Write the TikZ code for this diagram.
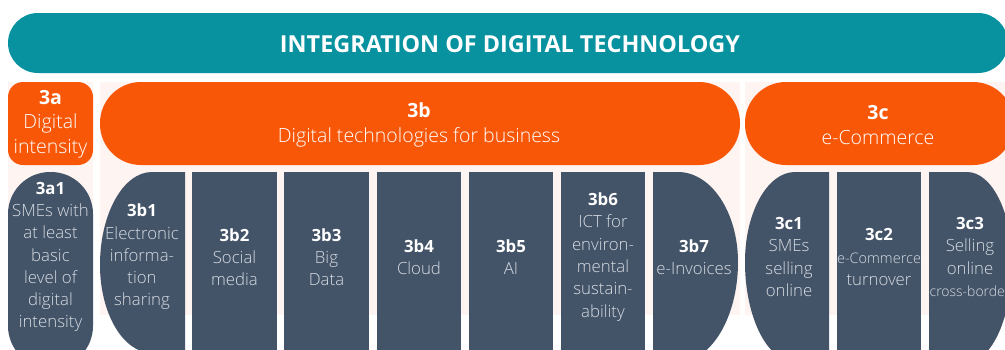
\documentclass[tikz,border=0pt]{standalone}
\usepackage{fontspec}
\setmainfont{Open Sans}[UprightFont={* Light}, BoldFont={* Bold}]
\definecolor{myteal}{HTML}{0892A0}
\definecolor{myorange}{HTML}{F95708}
\definecolor{mydark}{HTML}{435368}
\definecolor{mypink}{HTML}{FEF4F1}
\definecolor{boxtext}{HTML}{D8DDE3}
\tikzset{
  bgpanel/.style={fill=mypink},
  banner/.style={fill=myteal},
  orangebar/.style={fill=myorange},
  darkbox/.style={fill=mydark},
  titletext/.style={font=\bfseries\fontsize{23.4}{28}\selectfont, text=white, inner sep=0},
  headtext/.style={font=\fontsize{19.5}{24.5}\selectfont, text=white, align=center, inner sep=0},
  boxlabel/.style={font=\fontsize{16.8}{22.3}\selectfont, text=boxtext, align=center, inner sep=0},
}
\newcommand{\hd}[1]{{\bfseries\color{white}#1}}
\begin{document}
\begin{tikzpicture}[x=1pt,y=-1pt]
\useasboundingbox (0,0) rectangle (1005,349);
\clip (0,0) rectangle (1005,349);
% pink panels
\fill[bgpanel] (8,82) rectangle (93,315);
\fill[bgpanel] (100,82) rectangle (740,315);
\fill[bgpanel] (745,82) rectangle (1005,315);
% banner
\fill[banner, rounded corners=30pt] (8,13) rectangle (1008,73);
\node[titletext] (title) at (510,44) {INTEGRATION OF DIGITAL TECHNOLOGY};
% orange headers
\fill[orangebar, rounded corners=15pt] (8,82) rectangle (93,165);
\fill[orangebar, rounded corners=41pt] (100,82) rectangle (740,165);
\fill[orangebar, rounded corners=41pt] (745,82) rectangle (1014,165);
\node[headtext] (h3a) at (50.5,124) {\hd{3a}\\Digital\\intensity};
\node[headtext] (h3b) at (419,125) {\hd{3b}\\Digital technologies for business};
\node[headtext] (h3c) at (878,125) {\hd{3c}\\e-Commerce};
% dark boxes
\fill[darkbox, rounded corners=42pt] (8,172) rectangle (93,368);
\fill[darkbox] (185,172) -- (152,172) arc[start angle=270,end angle=180,x radius=52,y radius=93] arc[start angle=180,end angle=90,x radius=52,y radius=88] -- (185,353) -- cycle;
\fill[darkbox] (192,172) rectangle (277,360);
\fill[darkbox] (284,172) rectangle (369,360);
\fill[darkbox] (377,172) rectangle (461,360);
\fill[darkbox] (469,172) rectangle (553,360);
\fill[darkbox] (561,172) rectangle (645,360);
\fill[darkbox] (653,172) -- (678,172) arc[start angle=270,end angle=360,x radius=60,y radius=90] arc[start angle=0,end angle=90,x radius=60,y radius=100] -- (653,362) -- cycle;
\fill[darkbox] (829,172) -- (795,172) arc[start angle=270,end angle=180,x radius=50,y radius=90] arc[start angle=180,end angle=90,x radius=50,y radius=100] -- (829,362) -- cycle;
\fill[darkbox] (837,172) rectangle (921,360);
\fill[darkbox] (929,172) -- (967,172) arc[start angle=270,end angle=360,x radius=45,y radius=90] arc[start angle=0,end angle=90,x radius=45,y radius=100] -- (929,362) -- cycle;
% box texts
\node[boxlabel] (t3a1) at (50.5,257) {\hd{3a1}\\SMEs with\\at least\\basic\\level of\\digital\\intensity};
\node[boxlabel] (t3b1) at (142,257) {\hd{3b1}\\Electronic\\informa-\\tion\\sharing};
\node[boxlabel] (t3b2) at (234.5,257) {\hd{3b2}\\Social\\media};
\node[boxlabel] (t3b3) at (326.5,257) {\hd{3b3}\\Big\\Data};
\node[boxlabel] (t3b4) at (419,257) {\hd{3b4}\\Cloud};
\node[boxlabel] (t3b5) at (511,257) {\hd{3b5}\\AI};
\node[boxlabel] (t3b6) at (603,257) {\hd{3b6}\\ICT for\\environ-\\mental\\sustain-\\ability};
\node[boxlabel] (t3b7) at (694,257) {\hd{3b7}\\e-Invoices};
\node[boxlabel] (t3c1) at (789,257) {\hd{3c1}\\SMEs\\selling\\online};
\node[boxlabel] (t3c2) at (879,257) {\hd{3c2}\\{\fontsize{14.5}{20}\selectfont e-Commerce}\\turnover};
\node[boxlabel] (t3c3) at (970,257) {\hd{3c3}\\Selling\\online\\{\fontsize{14}{20}\selectfont cross-border}};
\end{tikzpicture}
\end{document}
